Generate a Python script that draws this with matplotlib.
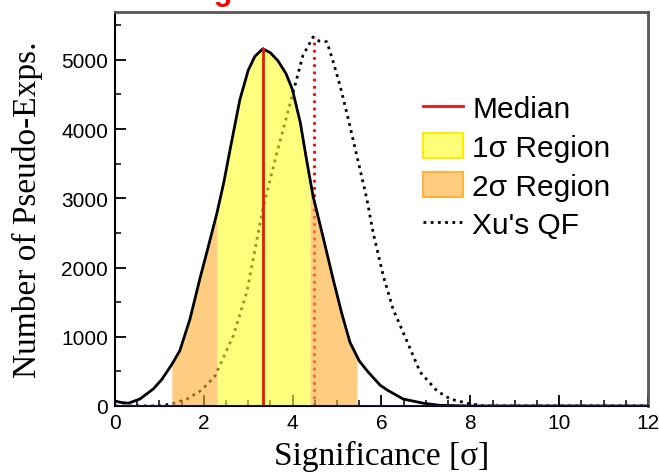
import numpy as np
import matplotlib
matplotlib.use("Agg")
import matplotlib.pyplot as plt
from matplotlib.patches import Patch
from matplotlib.lines import Line2D

sig_x = [0.0, 0.15, 0.3, 0.56, 0.86, 1.05, 1.28, 1.46, 1.69, 1.91, 2.1, 2.3,
         2.45, 2.59, 2.81, 3.0, 3.15, 3.33, 3.5, 3.67, 3.85, 3.99, 4.17, 4.32,
         4.46, 4.7, 4.91, 5.1, 5.29, 5.5, 5.7, 5.97, 6.13, 6.49, 6.94, 7.3,
         8.0, 12.0]
sig_y = [70, 50, 40, 100, 245, 380, 600, 800, 1260, 1835, 2300, 2800,
         3230, 3700, 4420, 4850, 5050, 5160, 5100, 4985, 4800, 4580, 4100, 3530,
         3030, 2400, 1835, 1350, 920, 650, 490, 300, 230, 100, 40, 10,
         0, 0]

# Xu's QF distribution
xu_x = [0.0, 1.0, 1.28, 1.62, 1.95, 2.25, 2.66, 2.97, 3.33, 3.65, 3.99, 4.23,
        4.46, 4.6, 4.77, 4.9, 5.07, 5.25, 5.45, 5.67, 5.81, 6.04, 6.26, 6.58,
        6.87, 7.25, 7.55, 7.93, 8.3, 12.0]
xu_y = [0, 0, 30, 100, 230, 430, 1010, 1650, 2850, 3670, 4480, 5060,
        5330, 5270, 5260, 5000, 4620, 4150, 3600, 2990, 2510, 1880, 1400, 925,
        490, 217, 100, 40, 0, 0]

median = 3.33
one_sigma = (2.30, 4.39)
two_sigma = (1.28, 5.45)
xu_median = 4.47

x_ticks = [0, 2, 4, 6, 8, 10, 12]
y_ticks = [0, 1000, 2000, 3000, 4000, 5000]

fig = plt.figure(figsize=(6.59, 4.77), dpi=100)
ax = fig.add_axes([0.1745, 0.1468, 0.8088, 0.8259])

sx = np.array(sig_x, dtype=float)
sy = np.array(sig_y, dtype=float)


def band(lo, hi):
    inside = (sx > lo) & (sx < hi)
    bx = np.concatenate([[lo], sx[inside], [hi]])
    by = np.concatenate([[np.interp(lo, sx, sy)], sy[inside], [np.interp(hi, sx, sy)]])
    return bx, by


dots = (0, (1, 1.6))

# things seen through the bands
ax.plot(xu_x, xu_y, color="black", lw=2.0, ls=dots, zorder=1)
ax.plot([xu_median, xu_median], [0, max(xu_y)], color="red", lw=2.0,
        ls=dots, zorder=1)

orange = (1.0, 0.675, 0.185)
yellow = (1.0, 1.0, 0.155)
for lo, hi in [(two_sigma[0], one_sigma[0]), (one_sigma[1], two_sigma[1])]:
    bx, by = band(lo, hi)
    ax.fill_between(bx, 0, by, color=orange, alpha=0.6, lw=0, zorder=2)
bx, by = band(*one_sigma)
ax.fill_between(bx, 0, by, color=yellow, alpha=0.6, lw=0, zorder=2)

ax.plot(sx, sy, color="black", lw=2, zorder=3)
ax.plot([median, median], [0, np.interp(median, sx, sy)], color="#ee1111",
        lw=2, zorder=4)
ax.axhline(0, color="#1c1c5c", lw=2, zorder=5)

ax.set_xlim(0, 12)
ax.set_ylim(0, 5690)
ax.set_xticks(x_ticks)
ax.set_yticks(y_ticks)
ax.set_xticks(np.arange(0, 12.01, 0.5), minor=True)
ax.set_yticks(np.arange(0, 5690, 500), minor=True)
ax.tick_params(which="both", direction="in", top=False, right=False,
               labelsize=15, pad=5)
ax.tick_params(which="major", length=8, width=1.3)
ax.tick_params(which="minor", length=4, width=1.1)
for lab in ax.get_xticklabels() + ax.get_yticklabels():
    lab.set_fontfamily("Liberation Sans")

for side in ("left", "bottom"):
    ax.spines[side].set_color("black")
    ax.spines[side].set_linewidth(1.5)
for side in ("top", "right"):
    ax.spines[side].set_color("#555555")
    ax.spines[side].set_linewidth(2)

ax.set_xlabel("Significance [σ]", fontsize=24, fontfamily="Liberation Serif")
ax.set_ylabel("Number of Pseudo-Exps.", fontsize=24, fontfamily="Liberation Serif")
ax.xaxis.set_label_coords(0.5, -0.085)
ax.yaxis.set_label_coords(-0.135, 0.5)

handles = [
    Line2D([], [], color="#ee1111", lw=2),
    Patch(facecolor=(1.0, 1.0, 0.47), edgecolor=(1.0, 0.93, 0.0), lw=1.5),
    Patch(facecolor=(1.0, 0.80, 0.50), edgecolor=(1.0, 0.70, 0.25), lw=1.5),
    Line2D([], [], color="black", lw=2.0, ls=dots),
]
labels = ["Median", "1σ Region", "2σ Region", "Xu's QF"]
ax.legend(handles, labels, loc="upper left", bbox_to_anchor=(0.578, 0.79),
          frameon=False, borderaxespad=0, borderpad=0, handlelength=1.35,
          handleheight=0.9, handletextpad=0.3, labelspacing=0.33,
          prop={"family": "Liberation Sans", "size": 21.5})

# title is cut off by the top edge of the image; only the descender shows
fig.text(0.281, 1.0, "Significance", color="red", fontsize=22,
         fontweight="bold", fontfamily="Liberation Sans", va="baseline")

fig.savefig("out.png", dpi=100)
